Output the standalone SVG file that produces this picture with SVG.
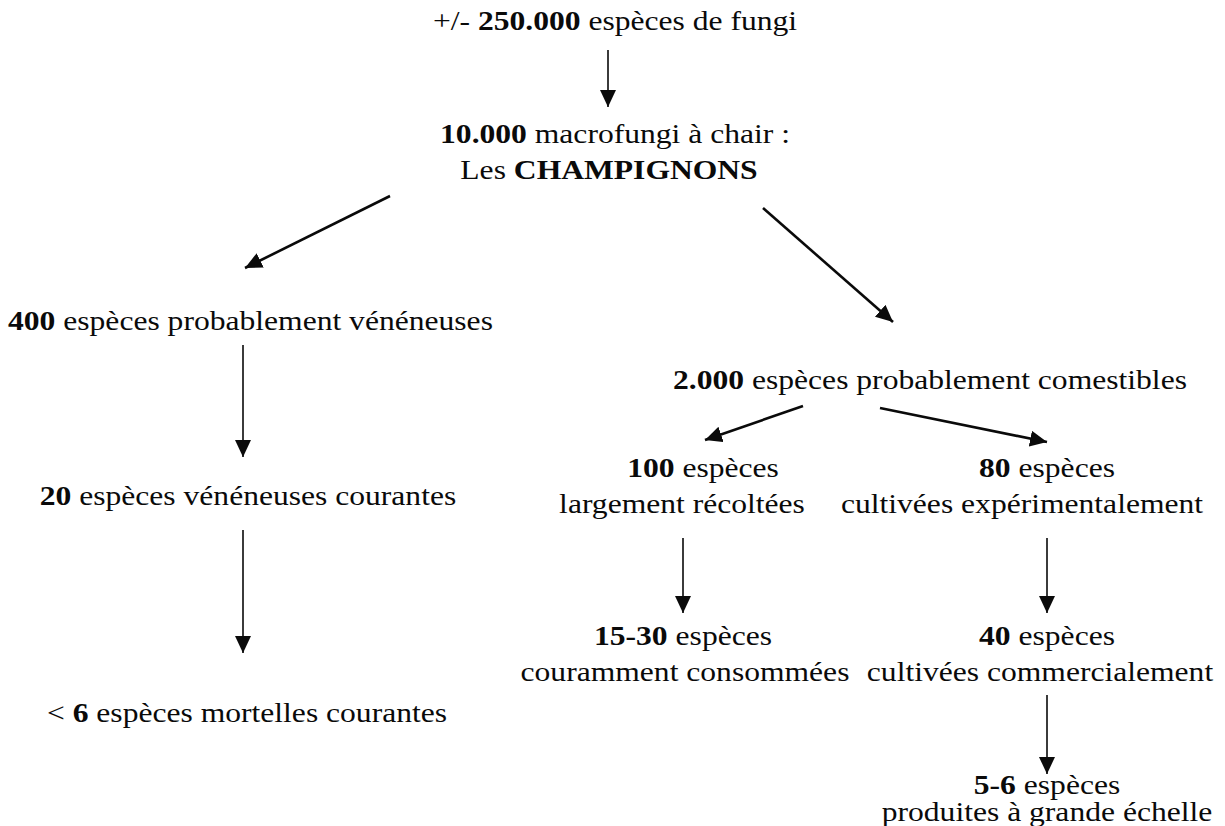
<svg xmlns="http://www.w3.org/2000/svg" width="1225" height="826" viewBox="0 0 1225 826">
<defs>
<style>
text{font-family:"Liberation Serif","Times New Roman",serif;font-size:27px;fill:#0a0a0a}
.b{font-weight:bold}
.c{text-anchor:middle}
.v{stroke:#0a0a0a;stroke-width:1.6;fill:none}
.d{stroke:#0a0a0a;stroke-width:2.6;fill:none}
</style>
<marker id="ah" markerUnits="userSpaceOnUse" markerWidth="19" markerHeight="17" refX="17" refY="8" orient="auto">
<path d="M0,0 L17,8 L0,16 Z" fill="#0a0a0a"/>
</marker>
</defs>
<rect width="1225" height="826" fill="#fff"/>
<g id="connectors">
<path class="v" d="M608,50 L608,107" marker-end="url(#ah)"/>
<path class="d" d="M390,196 L245,268" marker-end="url(#ah)"/>
<path class="d" d="M763,208 L893,322" marker-end="url(#ah)"/>
<path class="v" d="M243,345 L243,457" marker-end="url(#ah)"/>
<path class="v" d="M243,530 L243,653" marker-end="url(#ah)"/>
<path class="d" d="M803,406 L705,440" marker-end="url(#ah)"/>
<path class="d" d="M880,408 L1047,442" marker-end="url(#ah)"/>
<path class="v" d="M683,538 L683,613" marker-end="url(#ah)"/>
<path class="v" d="M1047,538 L1047,613" marker-end="url(#ah)"/>
<path class="v" d="M1047,695 L1047,774" marker-end="url(#ah)"/>
</g>
<g id="n_fungi"><text class="c" transform="translate(615,30) scale(1.17,1)">+/- <tspan class="b">250.000</tspan> espèces de fungi</text></g>
<g id="n_macro">
<text class="c" transform="translate(615,143) scale(1.17,1)"><tspan class="b">10.000</tspan> macrofungi à chair :</text>
<text class="c" transform="translate(609,179) scale(1.17,1)">Les <tspan class="b">CHAMPIGNONS</tspan></text>
</g>
<g id="n_400"><text transform="translate(8,330) scale(1.17,1)"><tspan class="b">400</tspan> espèces probablement vénéneuses</text></g>
<g id="n_2000"><text class="c" transform="translate(930,389) scale(1.17,1)"><tspan class="b">2.000</tspan> espèces probablement comestibles</text></g>
<g id="n_20"><text class="c" transform="translate(248,505) scale(1.17,1)"><tspan class="b">20</tspan> espèces vénéneuses courantes</text></g>
<g id="n_6"><text class="c" transform="translate(247,722) scale(1.17,1)">&lt; <tspan class="b">6</tspan> espèces mortelles courantes</text></g>
<g id="n_100">
<text class="c" transform="translate(703,477) scale(1.17,1)"><tspan class="b">100</tspan> espèces</text>
<text class="c" transform="translate(682,513) scale(1.17,1)">largement récoltées</text>
</g>
<g id="n_80">
<text class="c" transform="translate(1047,477) scale(1.17,1)"><tspan class="b">80</tspan> espèces</text>
<text class="c" transform="translate(1022,513) scale(1.17,1)">cultivées expérimentalement</text>
</g>
<g id="n_1530">
<text class="c" transform="translate(683,645) scale(1.17,1)"><tspan class="b">15-30</tspan> espèces</text>
<text class="c" transform="translate(685,681) scale(1.17,1)">couramment consommées</text>
</g>
<g id="n_40">
<text class="c" transform="translate(1047,645) scale(1.17,1)"><tspan class="b">40</tspan> espèces</text>
<text class="c" transform="translate(1040,681) scale(1.17,1)">cultivées commercialement</text>
</g>
<g id="n_56">
<text class="c" transform="translate(1047,794) scale(1.17,1)"><tspan class="b">5-6</tspan> espèces</text>
<text class="c" transform="translate(1047,821) scale(1.17,1)">produites à grande échelle</text>
</g>
</svg>
